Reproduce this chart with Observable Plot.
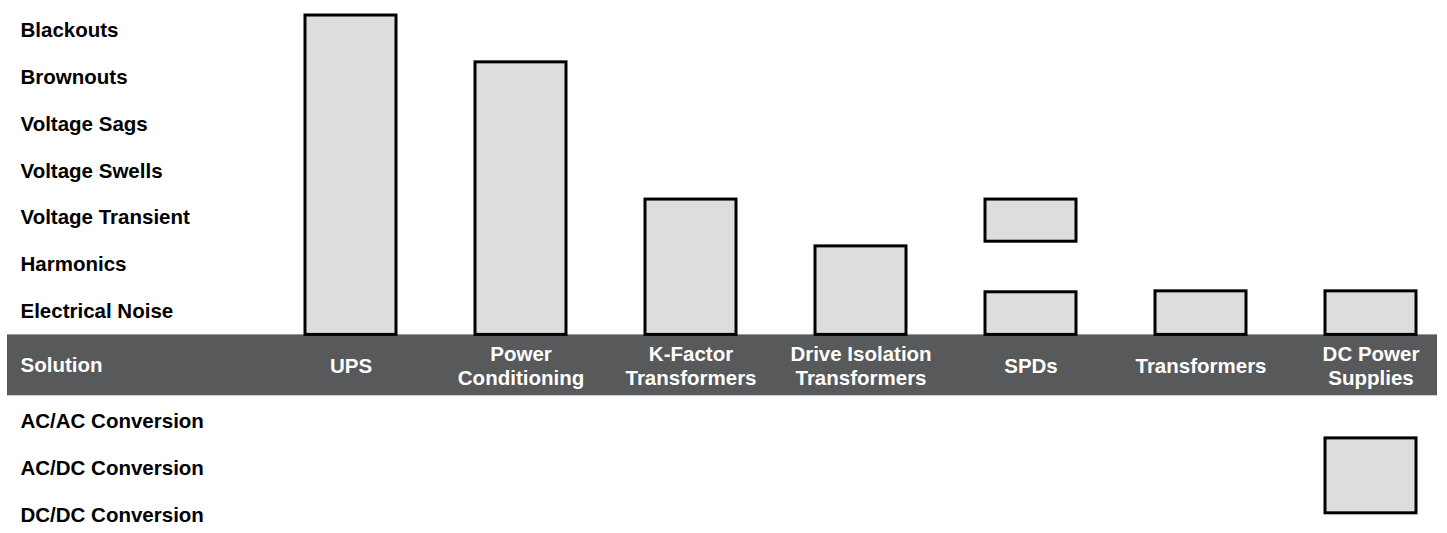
<!DOCTYPE html>
<html>
<head>
<meta charset="utf-8">
<script src="https://cdn.jsdelivr.net/npm/d3@7"></script>
<script src="https://cdn.jsdelivr.net/npm/@observablehq/plot@0.6"></script>
<style>
  html, body { margin: 0; padding: 0; background: #ffffff; }
  #chart svg { display: block; }
</style>
</head>
<body>
<div id="chart"></div>
<script>
// ---- Data ----
const problems = ["Blackouts", "Brownouts", "Voltage Sags", "Voltage Swells", "Voltage Transient", "Harmonics", "Electrical Noise"];
const headerLabel = "Solution";
const conversions = ["AC/AC Conversion", "AC/DC Conversion", "DC/DC Conversion"];

const solutions = ["UPS", "Power Conditioning", "K-Factor Transformers", "Drive Isolation Transformers", "SPDs", "Transformers", "DC Power Supplies"];
const solutionLabels = ["UPS", "Power\nConditioning", "K-Factor\nTransformers", "Drive Isolation\nTransformers", "SPDs", "Transformers", "DC Power\nSupplies"];

// Coverage bars, in row units (0 = Blackouts ... 6 = Electrical Noise, header, then conversions)
const barSolution = ["UPS", "Power Conditioning", "K-Factor Transformers", "Drive Isolation Transformers", "SPDs", "SPDs", "Transformers", "DC Power Supplies", "DC Power Supplies"];
const barFrom = [-0.32, 0.68, 3.61, 4.61, 3.61, 5.59, 5.57, 5.57, 8.71];
const barTo   = [6.5, 6.5, 6.5, 6.5, 4.51, 6.5, 6.5, 6.5, 10.31];

// ---- Layout of rows ----
const headerGapBefore = 0.15, headerGapAfter = 0.2, headerHalf = 0.65;
const headerRow = problems.length + headerGapBefore;
const rows = [
  ...problems.map((name, i) => ({name, row: i})),
  ...conversions.map((name, j) => ({name, row: headerRow + 1 + headerGapAfter + j}))
];
const bars = barSolution.map((s, i) => ({solution: s, from: barFrom[i], to: barTo[i]}));
const header = [{y1: headerRow - headerHalf, y2: headerRow + headerHalf}];

const W = 1447, H = 533;
const font = "'Liberation Sans', Arial, Helvetica, sans-serif";
const fs = 20.5;

const chart = Plot.plot({
  width: W,
  height: H,
  marginTop: 0, marginBottom: 0, marginLeft: 20, marginRight: 10,
  style: {fontFamily: font, fontSize: fs + "px", fontWeight: "bold", background: "#ffffff"},
  x: {type: "band", domain: solutions, paddingInner: 0.4669, paddingOuter: 0, align: 0.5, insetLeft: 283, insetRight: 18.7, axis: null},
  y: {type: "linear", domain: [-30 / 46.83, (H - 30) / 46.83], reverse: true, axis: null},
  marks: [
    Plot.rect(header, {y1: "y1", y2: "y2", fill: "#58595b", insetLeft: -13}),
    Plot.barY(bars, {x: "solution", y1: "from", y2: "to", fill: "#dcdddf", stroke: "#000000", strokeWidth: 3}),
    Plot.text(rows, {y: "row", text: "name", frameAnchor: "left", textAnchor: "start", fill: "#000000", fontSize: fs, fontWeight: "bold"}),
    Plot.text([headerLabel], {y: () => headerRow, text: d => d, frameAnchor: "left", textAnchor: "start", fill: "#ffffff", fontSize: fs, fontWeight: "bold"}),
    Plot.text(solutions, {x: d => d, y: () => headerRow, text: (d, i) => solutionLabels[i], fill: "#ffffff", fontSize: fs, fontWeight: "bold", lineHeight: 1.17, textAnchor: "middle"})
  ]
});
document.getElementById("chart").appendChild(chart);
</script>
</body>
</html>
